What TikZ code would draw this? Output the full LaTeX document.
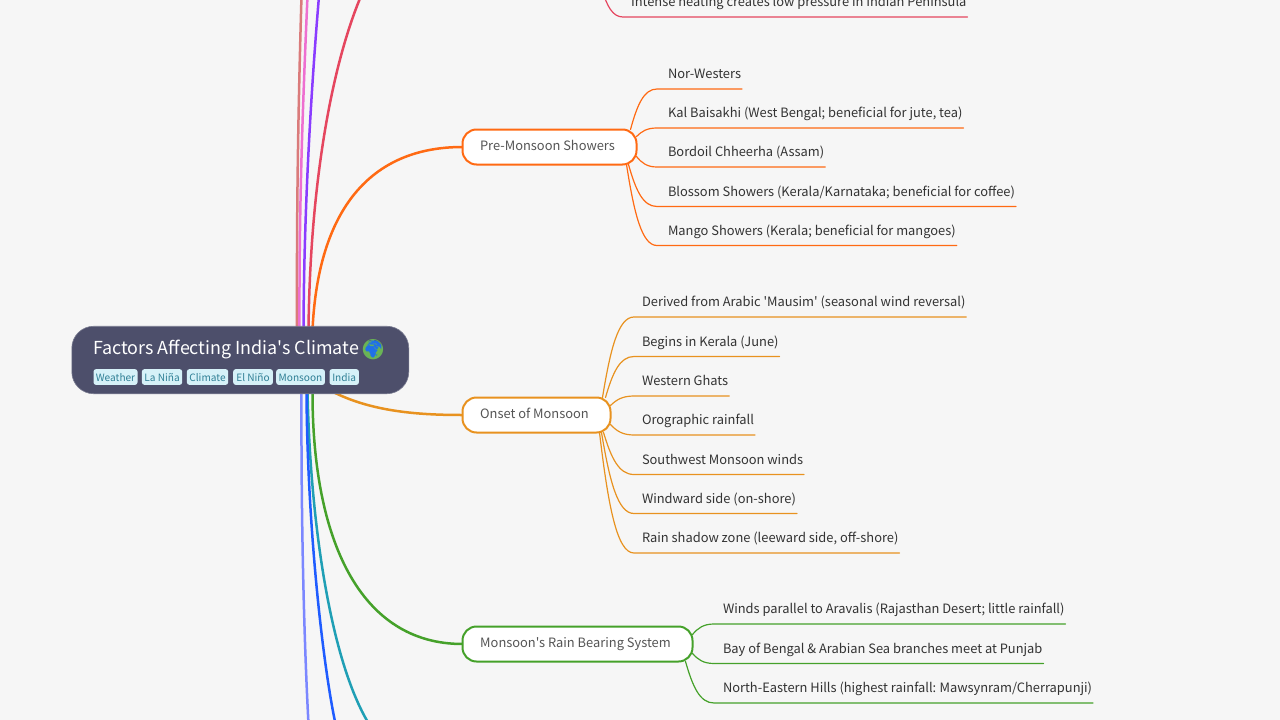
\documentclass[tikz,border=0pt]{standalone}
\usepackage{fontspec}
\newfontfamily\uifont{Noto Sans CJK SC}
\newfontfamily\emojifont{Noto Emoji}
\usetikzlibrary{calc}
\definecolor{bgc}{HTML}{F6F6F6}
\definecolor{rootc}{HTML}{4D4F6B}
\definecolor{tagfill}{HTML}{D6F1F8}
\definecolor{tagtext}{HTML}{2F7F95}
\definecolor{leaftext}{HTML}{333333}
\definecolor{branchtext}{HTML}{555555}
\definecolor{corange}{HTML}{FF6A13}
\definecolor{camber}{HTML}{E8921F}
\definecolor{cgreen}{HTML}{45A12A}
\definecolor{cred}{HTML}{E5465F}
\definecolor{cpurple}{HTML}{8A3CFF}
\definecolor{cpink}{HTML}{EE6FD0}
\definecolor{cbrown}{HTML}{DA7B7B}
\definecolor{cperi}{HTML}{7B87FF}
\definecolor{cblue}{HTML}{1F5CFF}
\definecolor{cteal}{HTML}{1F9FB5}
\pgfdeclarelayer{bgfill}
\pgfdeclarelayer{bglines}
\pgfsetlayers{bgfill,bglines,main}
\tikzset{
  x=1pt,y=-1pt,
  leaf/.style={anchor=west,outer sep=0pt,inner xsep=1pt,inner ysep=0pt,minimum height=32pt,text height=12pt,text depth=1pt,font=\uifont\fontsize{12.88}{15}\selectfont,text=leaftext},
  branch/.style={anchor=west,outer sep=0pt,rounded corners=14pt,draw=#1,line width=2pt,fill=white,minimum height=35pt,inner xsep=0pt,inner ysep=0pt,text height=9.5pt,text depth=2.5pt,font=\uifont\fontsize{12.88}{15}\selectfont,text=branchtext},
  tag/.style={fill=tagfill,rounded corners=2.5pt,minimum height=15.7pt,inner sep=0pt,text height=10pt,text depth=1pt,font=\uifont\fontsize{10.1}{12}\selectfont,text=tagtext,anchor=west},
  main/.style={line width=2.5pt,line cap=round,color=#1},
  twig/.style={line width=1.2pt,line cap=round,color=#1},
}
% \twigline{colour}{start}{leaf}{offset}
\newcommand{\twigline}[4]{%
  \draw[twig=#1] let \p1=(#2), \p2=($(#3.south west)+(-#4,0)$) in
    (\p1) .. controls (\x1+.25*\x2-.25*\x1,\y1+.6*\y2-.6*\y1) and (.5*\x1+.5*\x2,\y2) .. (\p2) -- (#3.south east);}
\begin{document}
\begin{tikzpicture}
\useasboundingbox (0,0) rectangle (1280,720);
\clip (0,0) rectangle (1280,720);
\begin{pgfonlayer}{bgfill}
\fill[bgc] (0,0) rectangle (1280,720);
\end{pgfonlayer}
% free ends of the connectors leaving the picture
\coordinate (tbrown) at (301.5,-4);
\coordinate (tpink) at (307.5,-4);
\coordinate (tpurple) at (319,-4);
\coordinate (tred) at (361,-4);
\coordinate (bperi) at (308.5,724);
\coordinate (bblue) at (335.5,724);
\coordinate (bteal) at (369,724);
\coordinate (redparent) at (602,-10);
% root and branches
\node[anchor=west,rounded corners=22pt,fill=rootc,draw=rootc!75!white,line width=.6pt,minimum width=337pt,minimum height=67.5pt,inner sep=0pt] (root) at (71.5,360) {};
\node[anchor=west,inner sep=0pt,text=white,font=\uifont\fontsize{17.9}{22}\selectfont,text height=14pt,text depth=3pt] (title) at (93,349) {Factors Affecting India's Climate};
\node[circle,fill=cblue!70!cteal,minimum size=19pt,inner sep=0pt] (globedisk) at (373,349.5) {};
\node[inner sep=0pt,text=cgreen!80!white,font=\emojifont\fontsize{20}{22}\selectfont] (globe) at (373,349.5) {🌍};
\node[tag,minimum width=44pt] (t1) at (93.3,377) {Weather};
\node[tag,minimum width=40.3pt] (t2) at (141.7,377) {La Niña};
\node[tag,minimum width=41.3pt] (t3) at (186.7,377) {Climate};
\node[tag,minimum width=39.7pt] (t4) at (233,377) {El Niño};
\node[tag,minimum width=48.7pt] (t5) at (276,377) {Monsoon};
\node[tag,minimum width=29.4pt] (t6) at (329.3,377) {India};
\node[branch=corange,minimum width=174pt] (pre) at (462.5,147) {Pre-Monsoon Showers\hspace*{4pt}};
\node[branch=camber,minimum width=148pt] (onset) at (462.5,415) {Onset of Monsoon\hspace*{4pt}};
\node[branch=cgreen,minimum width=230pt] (rain) at (462.5,644) {Monsoon's Rain Bearing System\hspace*{4pt}};
% leaves
\node[leaf] (p1) at (667,73) {Nor-Westers};
\node[leaf] (p2) at (667,112) {Kal Baisakhi (West Bengal; beneficial for jute, tea)};
\node[leaf] (p3) at (667,151) {Bordoil Chheerha (Assam)};
\node[leaf] (p4) at (667,190.5) {Blossom Showers (Kerala/Karnataka; beneficial for coffee)};
\node[leaf] (p5) at (667,229.5) {Mango Showers (Kerala; beneficial for mangoes)};
\node[leaf] (o1) at (641,301) {Derived from Arabic 'Mausim' (seasonal wind reversal)};
\node[leaf] (o2) at (641,340.5) {Begins in Kerala (June)};
\node[leaf] (o3) at (641,380) {Western Ghats};
\node[leaf] (o4) at (641,419) {Orographic rainfall};
\node[leaf] (o5) at (641,458.5) {Southwest Monsoon winds};
\node[leaf] (o6) at (641,497.5) {Windward side (on-shore)};
\node[leaf] (o7) at (641,537) {Rain shadow zone (leeward side, off-shore)};
\node[leaf] (r1) at (722,608) {Winds parallel to Aravalis (Rajasthan Desert; little rainfall)};
\node[leaf] (r2) at (722,647.5) {Bay of Bengal \& Arabian Sea branches meet at Punjab};
\node[leaf] (r3) at (722,687) {North-Eastern Hills (highest rainfall:\kern-.6pt{} Mawsynram/Cherrapunji)};
\node[leaf] (i1) at (630,1) {Intense heating creates low pressure in Indian Peninsula};
\begin{pgfonlayer}{bglines}
% main connectors
\draw[main=cbrown] ($(root.north west)+(225.5,4)$) .. controls (296.5,200) and (298.5,100) .. (tbrown);
\draw[main=cpink] ($(root.north west)+(228,4)$) .. controls (299,200) and (303,100) .. (tpink);
\draw[main=cpurple] ($(root.north west)+(232,4)$) .. controls (304,200) and (312,80) .. (tpurple);
\draw[main=cred] ($(root.north west)+(237,4)$) .. controls (310,190) and (330,70) .. (tred);
\draw[main=corange] ($(root.north west)+(241,4)$) .. controls (318,210) and (370,147) .. (pre.west);
\draw[main=camber] ($(root.south west)+(258,-4)$) .. controls (370,412) and (420,415) .. (onset.west);
\draw[main=cgreen] ($(root.south west)+(241,-4)$) .. controls (312,540) and (360,644) .. (rain.west);
\draw[main=cteal] ($(root.south west)+(236,-4)$) .. controls (310,520) and (330,660) .. (bteal);
\draw[main=cblue] ($(root.south west)+(235,-4)$) .. controls (307,520) and (322,660) .. (bblue);
\draw[main=cperi] ($(root.south west)+(230,-4)$) .. controls (301,520) and (304,640) .. (bperi);
% leaf connectors
\twigline{corange}{$(pre.north east)+(-6,0)$}{p1}{10}
\twigline{corange}{$(pre.north east)+(0,7)$}{p2}{10}
\twigline{corange}{$(pre.south east)+(0,-8)$}{p3}{10}
\twigline{corange}{$(pre.south east)+(-8,0)$}{p4}{10}
\twigline{corange}{$(pre.south east)+(-10,0)$}{p5}{10}
\twigline{camber}{$(onset.north east)+(-8,0)$}{o1}{7}
\twigline{camber}{$(onset.north east)+(-5,0)$}{o2}{7}
\twigline{camber}{$(onset.north east)+(0,8)$}{o3}{7}
\twigline{camber}{$(onset.south east)+(0,-8)$}{o4}{7}
\twigline{camber}{$(onset.south east)+(-7,0)$}{o5}{7}
\twigline{camber}{$(onset.south east)+(-9,0)$}{o6}{7}
\twigline{camber}{$(onset.south east)+(-11,0)$}{o7}{7}
\twigline{cgreen}{$(rain.north east)+(0,8)$}{r1}{8}
\twigline{cgreen}{$(rain.south east)+(0,-8)$}{r2}{8}
\twigline{cgreen}{$(rain.south east)+(-7,0)$}{r3}{8}
\twigline{cred}{redparent}{i1}{7}
\end{pgfonlayer}
\end{tikzpicture}
\end{document}
